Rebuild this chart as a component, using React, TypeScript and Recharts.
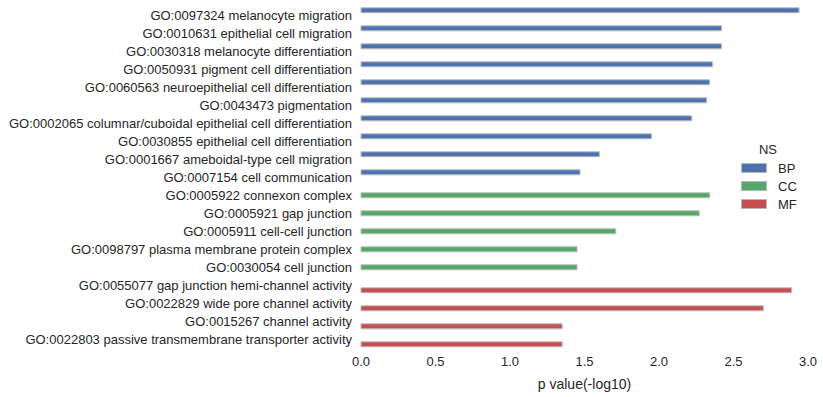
import React from "react";
import { BarChart, Bar, XAxis, YAxis, Label } from "recharts";

const terms = [
  "GO:0097324 melanocyte migration",
  "GO:0010631 epithelial cell migration",
  "GO:0030318 melanocyte differentiation",
  "GO:0050931 pigment cell differentiation",
  "GO:0060563 neuroepithelial cell differentiation",
  "GO:0043473 pigmentation",
  "GO:0002065 columnar/cuboidal epithelial cell differentiation",
  "GO:0030855 epithelial cell differentiation",
  "GO:0001667 ameboidal-type cell migration",
  "GO:0007154 cell communication",
  "GO:0005922 connexon complex",
  "GO:0005921 gap junction",
  "GO:0005911 cell-cell junction",
  "GO:0098797 plasma membrane protein complex",
  "GO:0030054 cell junction",
  "GO:0055077 gap junction hemi-channel activity",
  "GO:0022829 wide pore channel activity",
  "GO:0015267 channel activity",
  "GO:0022803 passive transmembrane transporter activity",
];

const namespaces = [
  "BP", "BP", "BP", "BP", "BP", "BP", "BP", "BP", "BP", "BP",
  "CC", "CC", "CC", "CC", "CC",
  "MF", "MF", "MF", "MF",
];

const pValues = [
  2.94, 2.42, 2.42, 2.36, 2.34, 2.32, 2.22, 1.95, 1.6, 1.47,
  2.34, 2.27, 1.71, 1.45, 1.45,
  2.89, 2.7, 1.35, 1.35,
];

const groups = ["BP", "CC", "MF"];
const colors: Record<string, string> = { BP: "#4C72B0", CC: "#55A868", MF: "#C44E52" };
const xTicks = [0, 0.5, 1, 1.5, 2, 2.5, 3];

const data = terms.map((t, i) => {
  const row: any = { name: t };
  groups.forEach((g) => {
    row[g] = namespaces[i] === g ? pValues[i] : null;
  });
  return row;
});

const FONT = "'Liberation Sans', Arial, sans-serif";
const TEXT = "#262626";

const YTick = (props: any) => {
  const { x, y, payload } = props;
  return (
    <text
      x={x}
      y={y}
      dy="0.35em"
      textAnchor="end"
      fill={TEXT}
      fontSize={13}
      fontFamily={FONT}
    >
      {payload.value}
    </text>
  );
};

const LegendBox = () => (
  <div
    style={{
      position: "absolute",
      left: 741,
      top: 141,
      fontFamily: FONT,
      color: TEXT,
      fontSize: 13,
    }}
  >
    <div style={{ textAlign: "center", width: 54, height: 18, lineHeight: "18px" }}>NS</div>
    {groups.map((g) => (
      <div key={g} style={{ display: "flex", alignItems: "center", height: 18 }}>
        <div
          style={{
            width: 24,
            height: 8,
            background: colors[g],
            border: "1px solid #b8b8b8",
            marginRight: 11,
          }}
        />
        <span>{g}</span>
      </div>
    ))}
  </div>
);

export default function App() {
  return (
    <div style={{ position: "absolute", left: 0, top: 0, width: 823, height: 397, background: "#fff" }}>
      <BarChart
        width={823}
        height={397}
        data={data}
        layout="vertical"
        margin={{ top: 6, right: 15, bottom: 0, left: 0 }}
        barCategoryGap="10%"
        barGap={0}
      >
        <XAxis
          type="number"
          domain={[0, 3]}
          ticks={xTicks}
          tickFormatter={(v: number) => v.toFixed(1)}
          axisLine={false}
          tickLine={false}
          tickSize={0}
          tickMargin={9}
          height={49}
          tick={{ fill: TEXT, fontSize: 13, fontFamily: FONT }}
        >
          <Label
            value="p value(-log10)"
            position="insideBottom"
            offset={8}
            style={{ fill: TEXT, fontSize: 14, fontFamily: FONT }}
          />
        </XAxis>
        <YAxis
          type="category"
          dataKey="name"
          width={361}
          axisLine={false}
          tickLine={false}
          tickSize={0}
          tickMargin={9}
          interval={0}
          tick={<YTick />}
        />
        {groups.map((g) => (
          <Bar
            key={g}
            dataKey={g}
            fill={colors[g]}
            stroke="#bdbdbd"
            strokeWidth={1}
            isAnimationActive={false}
          />
        ))}
      </BarChart>
      <LegendBox />
    </div>
  );
}
